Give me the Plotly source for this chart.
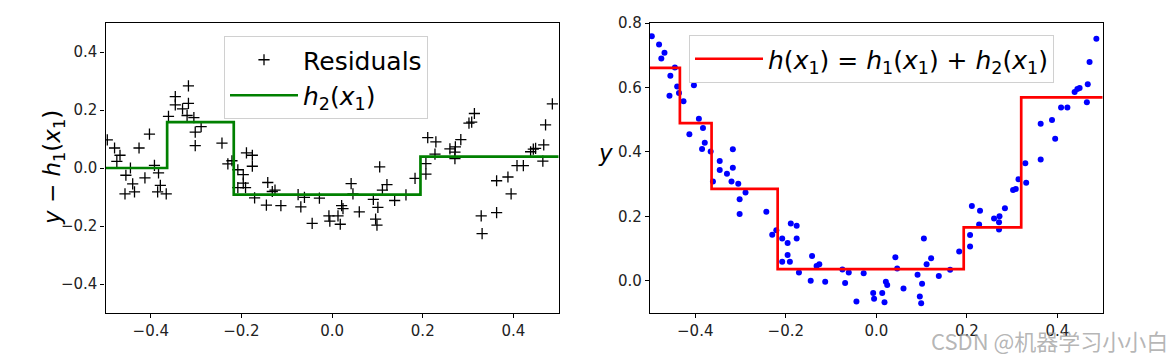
import plotly.graph_objects as go

# ---- data ----
x_pts = [-0.496,-0.480,-0.468,-0.475,-0.455,-0.457,-0.445,-0.440,-0.436,-0.426,
         -0.403,-0.392,-0.383,-0.413,-0.379,-0.385,-0.366,-0.346,-0.317,-0.346,
         -0.330,-0.317,-0.361,-0.320,-0.305,-0.289,-0.302,-0.302,-0.243,-0.230,
         -0.221,-0.208,-0.196,-0.189,-0.176,-0.176,-0.196,-0.208,-0.191,-0.171,
         -0.142,-0.132,-0.126,-0.145,-0.113,-0.075,-0.061,-0.069,-0.028,-0.044,
         -0.007,-0.005,0.013,0.018,0.021,0.024,0.042,0.046,0.060,0.091,
         0.096,0.099,0.101,0.105,0.111,0.121,0.138,0.163,0.183,0.207,
         0.207,0.211,0.229,0.227,0.260,0.272,0.271,0.271,0.284,0.302,
         0.308,0.314,0.329,0.331,0.363,0.363,0.388,0.395,0.408,0.422,
         0.438,0.444,0.449,0.465,0.467,0.471,0.486]

y_pts = [0.759,0.733,0.708,0.690,0.636,0.574,0.662,0.603,0.583,0.557,
         0.607,0.503,0.474,0.455,0.428,0.409,0.401,0.372,0.408,0.344,
         0.332,0.351,0.308,0.308,0.301,0.274,0.253,0.207,0.214,0.143,
         0.157,0.131,0.117,0.178,0.171,0.131,0.080,0.059,0.059,0.026,
         0.077,0.046,0.051,0.000,-0.003,0.035,0.026,-0.007,0.023,-0.064,
         -0.038,-0.056,-0.038,-0.067,-0.003,-0.013,0.073,0.038,-0.024,0.019,
         -0.049,-0.070,-0.009,0.131,0.051,0.070,0.015,0.034,0.091,0.106,
         0.142,0.232,0.217,0.175,0.193,0.200,0.182,0.159,0.225,0.282,
         0.285,0.315,0.365,0.304,0.376,0.487,0.499,0.441,0.538,0.538,
         0.586,0.595,0.598,0.554,0.610,0.679,0.751]

residuals = [0.097,0.069,0.044,0.023,-0.025,-0.089,0.000,-0.055,-0.082,0.069,
             0.117,0.009,-0.017,-0.034,-0.060,-0.082,-0.089,0.246,0.283,0.218,
             0.204,0.223,0.178,0.181,0.174,0.143,0.124,0.077,0.086,0.014,
             0.025,-0.006,-0.023,0.052,0.044,0.006,-0.052,-0.068,-0.068,-0.103,
             -0.050,-0.081,-0.076,-0.128,-0.130,-0.092,-0.101,-0.134,-0.104,-0.191,
             -0.165,-0.183,-0.165,-0.194,-0.130,-0.140,-0.054,-0.089,-0.151,-0.108,
             -0.176,-0.197,-0.136,0.004,-0.076,-0.057,-0.112,-0.093,-0.036,-0.021,
             0.015,0.105,0.090,0.048,0.066,0.073,0.055,0.032,0.098,0.155,
             0.158,0.188,-0.165,-0.226,-0.154,-0.044,-0.031,-0.089,0.008,0.008,
             0.056,0.065,0.068,0.024,0.080,0.149,0.221]

h2_edges = [-0.5, -0.364, -0.217, 0.195, 0.5]
h2_levels = [0.0, 0.158, -0.092, 0.039, 0.039]

h_edges = [-0.5, -0.434, -0.364, -0.218, 0.193, 0.320, 0.5]
h_levels = [0.661, 0.489, 0.285, 0.036, 0.166, 0.569, 0.569]

left_yticks = [-0.4, -0.2, 0.0, 0.2, 0.4]
right_yticks = [0.0, 0.2, 0.4, 0.6, 0.8]
xticks = [-0.4, -0.2, 0.0, 0.2, 0.4]

W, H = 1174, 361
FONT = "DejaVu Sans"

fig = go.Figure()

fig.add_trace(go.Scatter(
    x=x_pts, y=residuals, mode="markers", name="Residuals",
    marker=dict(symbol="cross-thin", size=8, line=dict(color="black", width=1.3), color="black"),
    xaxis="x", yaxis="y", legend="legend"))
fig.add_trace(go.Scatter(
    x=h2_edges, y=h2_levels, mode="lines", line_shape="hv",
    name="<i>h</i><sub>2</sub>(<i>x</i><sub>1</sub>)",
    line=dict(color="green", width=2.7),
    xaxis="x", yaxis="y", legend="legend"))

fig.add_trace(go.Scatter(
    x=x_pts, y=y_pts, mode="markers", showlegend=False,
    marker=dict(symbol="circle", size=6, color="blue"),
    xaxis="x2", yaxis="y2"))
fig.add_trace(go.Scatter(
    x=h_edges, y=h_levels, mode="lines", line_shape="hv",
    name="<i>h</i>(<i>x</i><sub>1</sub>) = <i>h</i><sub>1</sub>(<i>x</i><sub>1</sub>) + <i>h</i><sub>2</sub>(<i>x</i><sub>1</sub>)",
    line=dict(color="red", width=2.7),
    xaxis="x2", yaxis="y2", legend="legend2"))

ax_common = dict(showline=True, mirror=True, linecolor="black", linewidth=1.2,
                 ticks="outside", ticklen=4, tickwidth=1, tickcolor="black",
                 showgrid=False, zeroline=False, automargin=False,
                 tickfont=dict(family=FONT, size=15, color="#222"))

y_dom = [1 - 313/H, 1 - 23/H]
fig.update_layout(
    width=W, height=H, margin=dict(l=0, r=0, t=0, b=0, autoexpand=False),
    paper_bgcolor="white", plot_bgcolor="white",
    xaxis=dict(domain=[105.5/W, 558.7/W], range=[-0.5, 0.5], tickvals=xticks,
               tickformat=".1f", anchor="y", **ax_common),
    yaxis=dict(domain=y_dom, range=[-0.5, 0.5], tickvals=left_yticks,
               tickformat=".1f", anchor="x", **ax_common),
    xaxis2=dict(domain=[650/W, 1102.7/W], range=[-0.5, 0.5], tickvals=xticks,
                tickformat=".1f", anchor="y2", **ax_common),
    yaxis2=dict(domain=y_dom, range=[-0.1, 0.8], tickvals=right_yticks,
                tickformat=".1f", anchor="x2", **ax_common),
    legend=dict(x=224/W, y=1-36/H, xanchor="left", yanchor="top",
                bgcolor="rgba(255,255,255,0.8)", bordercolor="#d0d0d0", borderwidth=1,
                font=dict(family=FONT, size=25, color="black"), itemwidth=68,
                tracegroupgap=0),
    legend2=dict(x=689/W, y=1-35/H, xanchor="left", yanchor="top",
                 bgcolor="rgba(255,255,255,0.8)", bordercolor="#d0d0d0", borderwidth=1,
                 font=dict(family=FONT, size=25, color="black"), itemwidth=68),
)

fig.add_annotation(xref="paper", yref="paper", x=37/W, y=1-168/H,
                   text="<i>y</i> − <i>h</i><sub>1</sub>(<i>x</i><sub>1</sub>)",
                   textangle=-90, showarrow=False,
                   font=dict(family=FONT, size=23, color="black"))
fig.add_annotation(xref="paper", yref="paper", x=605/W, y=1-153/H,
                   text="<i>y</i>", showarrow=False,
                   font=dict(family=FONT, size=23, color="black"))
fig.add_annotation(xref="paper", yref="paper", x=1170/W, y=1-340/H,
                   xanchor="right", yanchor="middle",
                   text="CSDN @机器学习小小白", showarrow=False,
                   font=dict(family="Noto Sans CJK SC", size=22, color="rgba(150,150,150,0.7)"))

fig.write_html("out.html", config={"displayModeBar": False},
               post_script="document.body.style.margin='0';document.body.style.overflow='hidden';")
